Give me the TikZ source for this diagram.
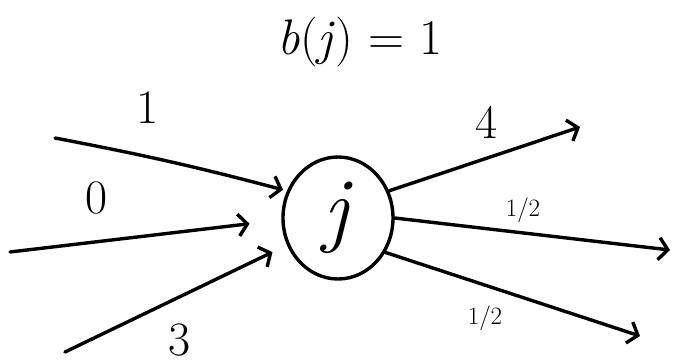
\documentclass[tikz,border=0pt]{standalone}
\usepackage{tikz}
\usetikzlibrary{arrows.meta,positioning,shapes.geometric}

\begin{document}
\begin{tikzpicture}[x=1pt,y=-1pt,
  wire/.style={line width=3.4pt,line cap=round,-{Straight Barb[length=9pt,width=22pt,line width=3.4pt]}},
  lbl/.style={font=\fontsize{48}{50}\selectfont},
  half/.style={font=\fontsize{25}{27}\selectfont}]
  \useasboundingbox (0,0) rectangle (675,364);
  % vertex and its balance
  \node[draw,ellipse,line width=3.4pt,minimum width=110pt,minimum height=122pt,inner sep=0pt] (j) at (338,218) {\fontsize{84}{84}\selectfont\textit{j}};
  \node[font=\fontsize{50}{52}\selectfont] (bal) at (360,42) {\textit{b}(\textit{j}) = 1};
  % incoming arcs
  \coordinate (in1) at (55,138);
  \coordinate (in0) at (10,252);
  \coordinate (in3) at (65,352);
  \draw[wire,shorten >=4pt] (in1) to[bend left=2] (j.152);
  \draw[wire,shorten >=32pt] (in0) -- (j.182);
  \draw[wire,shorten >=16pt] (in3) -- (j.208);
  \node[lbl] (c1) at (148,108) {1};
  \node[lbl] (c0) at (97,198) {0};
  \node[lbl] (c3) at (180,340) {3};
  % outgoing arcs
  \coordinate (out4) at (580,127);
  \coordinate (outa) at (670,250);
  \coordinate (outb) at (640,336);
  \draw[wire] (j.28) -- (out4);
  \draw[wire] (j.0) -- (outa);
  \draw[wire] (j.-36) -- (outb);
  \node[lbl] (c4) at (487,122) {4};
  \node[half] (ca) at (523,210) {1/2};
  \node[half] (cb) at (485,318) {1/2};
\end{tikzpicture}
\end{document}
